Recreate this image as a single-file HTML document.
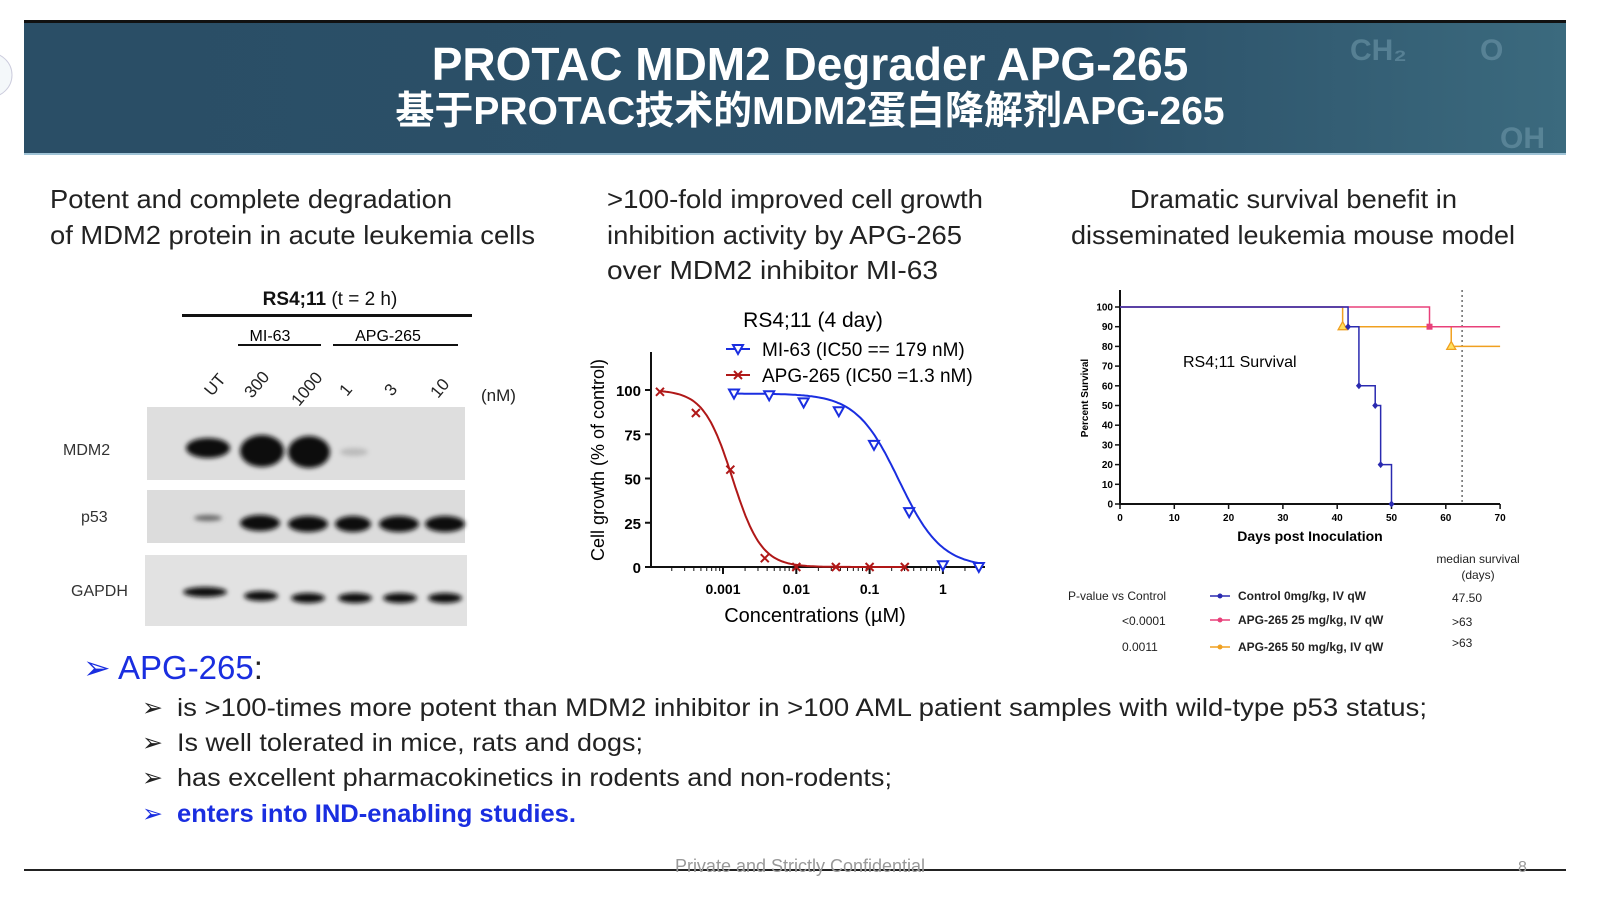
<!DOCTYPE html>
<html><head><meta charset="utf-8"><style>
html,body{margin:0;padding:0;background:#fff;width:1599px;height:899px;overflow:hidden}
svg{display:block}
text{font-family:"Liberation Sans","Noto Sans CJK SC",sans-serif}
</style></head><body>
<svg id="s" width="1599" height="899" viewBox="0 0 1599 899" xmlns="http://www.w3.org/2000/svg">
<defs>
<filter id="blur" x="-20%" y="-50%" width="140%" height="200%"><feGaussianBlur stdDeviation="2.5"/></filter>
<linearGradient id="hdr" x1="0" x2="1"><stop offset="0" stop-color="#2a4e66"/><stop offset="0.7" stop-color="#2c5169"/><stop offset="1" stop-color="#3b6a7e"/></linearGradient>
</defs>
<g>
<rect x="24" y="22" width="1542" height="133" fill="url(#hdr)"/>
<rect x="24" y="20" width="1542" height="3" fill="#111"/>
<rect x="24" y="153" width="1542" height="2" fill="#9fc3d6"/>
<text x="1350" y="60" font-size="30" fill="#6d96a8" opacity="0.6" font-weight="bold">CH₂</text>
<text x="1480" y="60" font-size="30" fill="#6d96a8" opacity="0.6" font-weight="bold">O</text>
<text x="1500" y="148" font-size="30" fill="#6d96a8" opacity="0.6" font-weight="bold">OH</text>
<text x="810" y="80" text-anchor="middle" font-size="46" font-weight="bold" fill="#fff">PROTAC MDM2 Degrader APG-265</text>
<text x="810" y="124" text-anchor="middle" font-size="39" font-weight="bold" fill="#fff">基于PROTAC技术的MDM2蛋白降解剂APG-265</text>
</g>
<circle cx="-10" cy="75" r="22" fill="#f4f8fa" stroke="#ccd"/>

<g font-size="26" fill="#222" lengthAdjust="spacingAndGlyphs">
<text x="50" y="208" textLength="402" lengthAdjust="spacingAndGlyphs">Potent and complete degradation</text>
<text x="50" y="244" textLength="485" lengthAdjust="spacingAndGlyphs">of MDM2 protein in acute leukemia cells</text>
<text x="607" y="208" textLength="376" lengthAdjust="spacingAndGlyphs">&gt;100-fold improved cell growth</text>
<text x="607" y="244" textLength="355" lengthAdjust="spacingAndGlyphs">inhibition activity by APG-265</text>
<text x="607" y="279" textLength="331" lengthAdjust="spacingAndGlyphs">over MDM2 inhibitor MI-63</text>
<text x="1130" y="208" textLength="327" lengthAdjust="spacingAndGlyphs">Dramatic survival benefit in</text>
<text x="1071" y="244" textLength="444" lengthAdjust="spacingAndGlyphs">disseminated leukemia mouse model</text>
</g>

<g>
<text x="330" y="305" text-anchor="middle" font-size="19" fill="#111"><tspan font-weight="bold">RS4;11</tspan> (t = 2 h)</text>
<rect x="182" y="314" width="290" height="3" fill="#111"/>
<text x="270" y="341" text-anchor="middle" font-size="16">MI-63</text>
<text x="388" y="341" text-anchor="middle" font-size="16">APG-265</text>
<rect x="238" y="344" width="83" height="2" fill="#111"/>
<rect x="333" y="344" width="125" height="2" fill="#111"/>
<g font-size="17" fill="#222">
<text transform="translate(212,397) rotate(-50)">UT</text>
<text transform="translate(252,399) rotate(-50)">300</text>
<text transform="translate(299,407) rotate(-50)">1000</text>
<text transform="translate(347,397) rotate(-50)">1</text>
<text transform="translate(392,397) rotate(-50)">3</text>
<text transform="translate(438,399) rotate(-50)">10</text>
<text x="481" y="401">(nM)</text>
</g>
<g font-size="16" fill="#333">
<text x="63" y="455">MDM2</text><text x="81" y="522">p53</text><text x="71" y="596">GAPDH</text>
</g>
<rect x="147" y="407" width="318" height="73" fill="#dedede"/>
<rect x="147" y="490" width="318" height="53" fill="#dcdcdc"/>
<rect x="145" y="555" width="322" height="71" fill="#e2e2e2"/>
<g fill="#111" filter="url(#blur)">
<ellipse cx="208" cy="448" rx="22" ry="10"/>
<ellipse cx="262" cy="451" rx="22" ry="16"/>
<ellipse cx="309" cy="452" rx="21" ry="16"/>
<ellipse cx="354" cy="452" rx="14" ry="4" fill="#bbb"/>
<ellipse cx="208" cy="518" rx="14" ry="3" fill="#666"/>
<ellipse cx="260" cy="523" rx="20" ry="8"/>
<ellipse cx="308" cy="524" rx="20" ry="8"/>
<ellipse cx="353" cy="524" rx="18" ry="8"/>
<ellipse cx="399" cy="524" rx="20" ry="8"/>
<ellipse cx="445" cy="524" rx="20" ry="8"/>
<ellipse cx="205" cy="592" rx="22" ry="5"/>
<ellipse cx="261" cy="596" rx="17" ry="5"/>
<ellipse cx="308" cy="598" rx="17" ry="5"/>
<ellipse cx="355" cy="598" rx="17" ry="5"/>
<ellipse cx="400" cy="598" rx="17" ry="5"/>
<ellipse cx="445" cy="598" rx="17" ry="5"/>
</g>
</g>

<g id="dose"></g>
<g id="surv"></g>

<g>
<text x="83" y="679" font-size="33" fill="#1a2ee0">➢ APG-265<tspan fill="#222">:</tspan></text>
<g font-size="25" fill="#222">
<text x="142" y="716">➢</text><text x="177" y="716" textLength="1250" lengthAdjust="spacingAndGlyphs">is &gt;100-times more potent than MDM2 inhibitor in &gt;100 AML patient samples with wild-type p53 status;</text>
<text x="142" y="751">➢</text><text x="177" y="751" textLength="466" lengthAdjust="spacingAndGlyphs">Is well tolerated in mice, rats and dogs;</text>
<text x="142" y="786">➢</text><text x="177" y="786" textLength="715" lengthAdjust="spacingAndGlyphs">has excellent pharmacokinetics in rodents and non-rodents;</text>
<text x="142" y="822" fill="#1a2ee0">➢</text><text x="177" y="822" fill="#1a2ee0" font-weight="bold" textLength="399" lengthAdjust="spacingAndGlyphs">enters into IND-enabling studies.</text>
</g>
</g>
<rect x="24" y="869" width="1542" height="2" fill="#222"/>
<text x="800" y="872" text-anchor="middle" font-size="18" fill="#999">Private and Strictly Confidential</text>
<text x="1518" y="872" font-size="16" fill="#999">8</text>
</svg>
<script>
const redLogConc = [-3.86, -3.37, -2.9, -2.43, -2.0, -1.46, -1.0, -0.52];
const redValues = [99, 87, 55, 5, 0, 0, 0, 0];
const blueLogConc = [-2.85, -2.37, -1.9, -1.42, -0.94, -0.46, 0.0, 0.49];
const blueValues = [98, 97, 93, 88, 69, 31, 1, 0];
const fitLogIC50 = [-2.87, -0.6];
const fitHill = [2.2, 1.5];
const fitTop = [100, 98];
const yTicks = [0, 25, 50, 75, 100];
const xTickLabels = ["0.001", "0.01", "0.1", "1"];
const xTickLogs = [-3, -2, -1, 0];
const controlDays = [0, 42, 44, 47, 48, 50];
const controlSurv = [100, 90, 60, 50, 20, 0];
const dose25Days = [0, 57];
const dose25Surv = [100, 90];
const dose50Days = [0, 41, 61];
const dose50Surv = [100, 90, 80];
const survXTicks = [0, 10, 20, 30, 40, 50, 60, 70];
const survYTicks = [0, 10, 20, 30, 40, 50, 60, 70, 80, 90, 100];
const medianLine = [63];

const NS = "http://www.w3.org/2000/svg";
function mk(parent, tag, attrs, txt) {
  const e = document.createElementNS(NS, tag);
  for (const k in attrs) e.setAttribute(k, attrs[k]);
  if (txt !== undefined) e.textContent = txt;
  parent.appendChild(e);
  return e;
}

(function () {
  const g = document.getElementById('dose');
  const x = l => 723 + (l + 3) * 73.3;
  const y = v => 567 - v * 1.77;
  const ax = mk(g, 'path', { d: 'M651 352 V567 H985', stroke: '#111', 'stroke-width': 2, fill: 'none' });
  
  
  yTicks.forEach(t => {
    mk(g, 'line', { x1: 645, x2: 651, y1: y(t), y2: y(t), stroke: '#111', 'stroke-width': 2 });
    const tl = mk(g, 'text', { x: 641, y: y(t) + 6, 'text-anchor': 'end', 'font-size': 15, 'font-weight': 'bold' }, t);
    
    
  });
  for (let d = -4; d <= 0; d++) for (let m = 1; m < 10; m++) {
    const xx = x(d + Math.log10(m)); if (xx < 655 || xx > 985) continue;
    mk(g, 'line', { x1: xx, x2: xx, y1: 567, y2: m === 1 ? 574 : 571, stroke: '#111', 'stroke-width': m === 1 ? 2 : 1 });
  }
  xTickLogs.forEach((l, i) => {
    const tl = mk(g, 'text', { x: x(l), y: 594, 'text-anchor': 'middle', 'font-size': 14, 'font-weight': 'bold' }, xTickLabels[i]);
    
    
  });
  const xt = mk(g, 'text', { x: 815, y: 622, 'text-anchor': 'middle', 'font-size': 20 }, 'Concentrations (µM)');
  
  
  const yt = mk(g, 'text', { transform: 'translate(604,460) rotate(-90)', 'text-anchor': 'middle', 'font-size': 18 }, 'Cell growth (% of control)');
  
  
  const ct = mk(g, 'text', { x: 813, y: 327, 'text-anchor': 'middle', 'font-size': 21 }, 'RS4;11 (4 day)');
  
  
  const colors = ['#b01818', '#1a2ee0'];
  const xs = [redLogConc, blueLogConc], vs = [redValues, blueValues];
  [0, 1].forEach(s => {
    let d = '';
    const l0 = xs[s][0], l1 = xs[s][xs[s].length - 1];
    for (let i = 0; i <= 120; i++) {
      const l = l0 + (l1 - l0) * i / 120;
      const v = fitTop[s] / (1 + Math.pow(10, (l - fitLogIC50[s]) * fitHill[s]));
      d += (i ? 'L' : 'M') + x(l).toFixed(1) + ' ' + y(v).toFixed(1);
    }
    const p = mk(g, 'path', { d, stroke: colors[s], 'stroke-width': 2, fill: 'none' });
    
    
    xs[s].forEach((l, i) => {
      const px = x(l), py = y(vs[s][i]);
      let m;
      if (s === 0) m = mk(g, 'path', { d: `M${px - 4} ${py - 4}L${px + 4} ${py + 4}M${px + 4} ${py - 4}L${px - 4} ${py + 4}`, stroke: colors[s], 'stroke-width': 2 });
      else m = mk(g, 'path', { d: `M${px - 5} ${py - 4}H${px + 5}L${px} ${py + 5}Z`, stroke: colors[s], 'stroke-width': 2, fill: '#fff' });
      
      
    });
  });
  const lg = mk(g, 'g', {});
  
  
  mk(lg, 'line', { x1: 726, x2: 750, y1: 349, y2: 349, stroke: colors[1], 'stroke-width': 2 });
  mk(lg, 'path', { d: 'M733 345H743L738 354Z', stroke: colors[1], 'stroke-width': 2, fill: '#fff' });
  mk(lg, 'text', { x: 762, y: 356, 'font-size': 19 }, 'MI-63 (IC50 == 179 nM)');
  mk(lg, 'line', { x1: 726, x2: 750, y1: 375, y2: 375, stroke: colors[0], 'stroke-width': 2 });
  mk(lg, 'path', { d: 'M734 371L742 379M742 371L734 379', stroke: colors[0], 'stroke-width': 2 });
  mk(lg, 'text', { x: 762, y: 382, 'font-size': 19 }, 'APG-265 (IC50 =1.3 nM)');
})();

(function () {
  const g = document.getElementById('surv');
  const x = d => 1120 + d * 5.43;
  const y = v => 504 - v * 1.97;
  const ax = mk(g, 'path', { d: 'M1120 290 V504 H1500', stroke: '#111', 'stroke-width': 2, fill: 'none' });
  
  
  survYTicks.forEach(t => {
    mk(g, 'line', { x1: 1115, x2: 1120, y1: y(t), y2: y(t), stroke: '#111', 'stroke-width': 1.5 });
    const tl = mk(g, 'text', { x: 1113, y: y(t) + 3.5, 'text-anchor': 'end', 'font-size': 10, 'font-weight': 'bold' }, t);
    
    
  });
  survXTicks.forEach(t => {
    mk(g, 'line', { x1: x(t), x2: x(t), y1: 504, y2: 509, stroke: '#111', 'stroke-width': 1.5 });
    const tl = mk(g, 'text', { x: x(t), y: 521, 'text-anchor': 'middle', 'font-size': 10, 'font-weight': 'bold' }, t);
    
    
  });
  const xt = mk(g, 'text', { x: 1310, y: 541, 'text-anchor': 'middle', 'font-size': 14, 'font-weight': 'bold' }, 'Days post Inoculation');
  
  
  const yt = mk(g, 'text', { transform: 'translate(1088,398) rotate(-90)', 'text-anchor': 'middle', 'font-size': 10, 'font-weight': 'bold' }, 'Percent Survival');
  
  
  const ct = mk(g, 'text', { x: 1183, y: 367, 'font-size': 16 }, 'RS4;11 Survival');
  
  
  const ml = mk(g, 'line', { x1: x(medianLine[0]), x2: x(medianLine[0]), y1: 290, y2: 504, stroke: '#444', 'stroke-dasharray': '2 3', 'stroke-width': 1.2 });
  
  
  const series = [[dose50Days, dose50Surv, '#f0a020', 'tri', 'dose50'], [dose25Days, dose25Surv, '#e8407a', 'sq', 'dose25'], [controlDays, controlSurv, '#2a2ab0', 'dia', 'control']];
  series.forEach(([ds, ss, c, mkT, nm]) => {
    let d = `M${x(ds[0])} ${y(ss[0])}`;
    for (let i = 1; i < ds.length; i++) d += `H${x(ds[i])}V${y(ss[i])}`;
    if (ss[ss.length - 1] > 0) d += `H${x(70)}`;
    const p = mk(g, 'path', { d, stroke: c, 'stroke-width': 1.5, fill: 'none' });
    
    
    for (let i = 1; i < ds.length; i++) {
      const px = x(ds[i]), py = y(ss[i]);
      let m;
      if (mkT === 'tri') m = mk(g, 'path', { d: `M${px} ${py - 5}L${px + 4.5} ${py + 3}H${px - 4.5}Z`, fill: '#ffe060', stroke: c, 'stroke-width': 1.3 });
      else if (mkT === 'sq') m = mk(g, 'rect', { x: px - 3, y: py - 3, width: 6, height: 6, fill: c });
      else m = mk(g, 'path', { d: `M${px} ${py - 3.5}L${px + 3} ${py}L${px} ${py + 3.5}L${px - 3} ${py}Z`, fill: c });
      
      
    }
  });
  const lg = mk(g, 'g', { 'font-size': 12, fill: '#222' });
  
  
  mk(lg, 'text', { x: 1478, y: 563, 'text-anchor': 'middle', 'font-size': 12 }, 'median survival');
  mk(lg, 'text', { x: 1478, y: 579, 'text-anchor': 'middle', 'font-size': 12 }, '(days)');
  mk(lg, 'text', { x: 1068, y: 600 }, 'P-value vs Control');
  mk(lg, 'text', { x: 1122, y: 625 }, '<0.0001');
  mk(lg, 'text', { x: 1122, y: 651 }, '0.0011');
  const rows = [['Control 0mg/kg, IV qW', '#2a2ab0', 596, '47.50'], ['APG-265 25 mg/kg, IV qW', '#e8407a', 620, '>63'], ['APG-265 50 mg/kg, IV qW', '#f0a020', 647, '>63']];
  rows.forEach(([t, c, yy, med], i) => {
    mk(lg, 'line', { x1: 1210, x2: 1230, y1: yy, y2: yy, stroke: c, 'stroke-width': 1.5 });
    mk(lg, 'circle', { cx: 1220, cy: yy, r: 2.5, fill: c });
    mk(lg, 'text', { x: 1238, y: yy + 4, 'font-weight': 'bold' }, t);
    mk(lg, 'text', { x: 1452, y: yy + (i === 2 ? 0 : 6) }, med);
  });
})();
</script>
</body></html>
